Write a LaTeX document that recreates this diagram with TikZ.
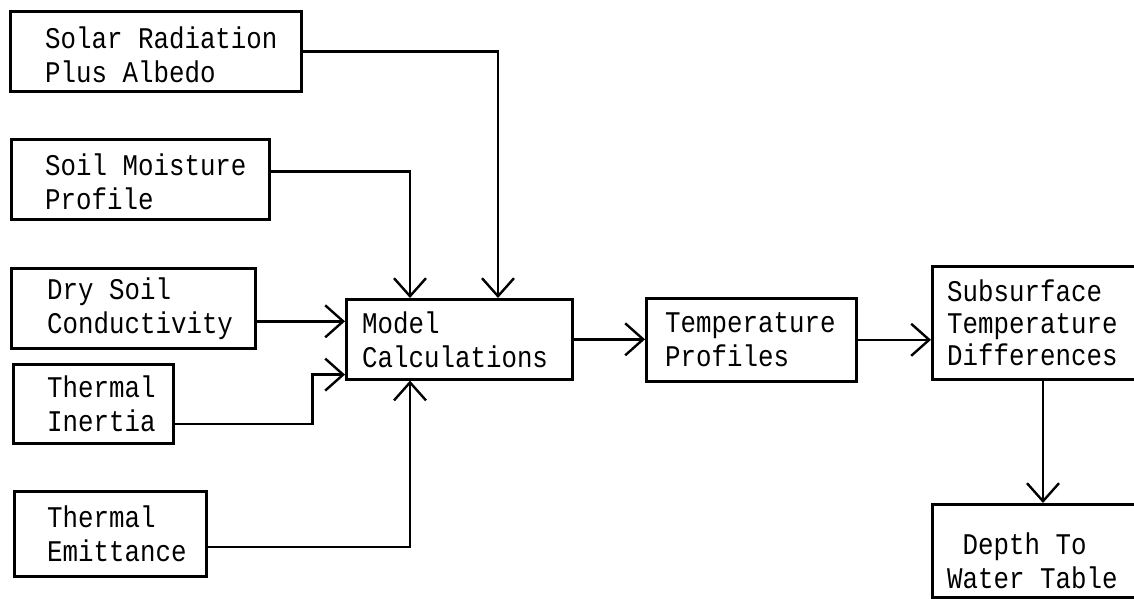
\documentclass[tikz,border=0pt]{standalone}
\usepackage{fontspec}
\setmonofont[FakeStretch=0.86]{Liberation Mono}
\usetikzlibrary{arrows.meta,calc}
\tikzset{
  box/.style={draw=black, line width=2.6pt, rectangle, inner sep=0pt, anchor=north west},
  lbl/.style={anchor=west, align=left, inner sep=0pt, text=black,
    font=\ttfamily\fontsize{30pt}{34pt}\selectfont},
  arr/.style={draw=black, line width=2.4pt, -{Straight Barb[length=18pt,width=32pt]}}
}
\begin{document}
\begin{tikzpicture}[x=1pt,y=-1pt]
\useasboundingbox (0,0) rectangle (1134,598);
\clip (0,0) rectangle (1134,598);
\fill[white] (0,0) rectangle (1134,598);
% boxes
\node[box, minimum width=291pt, minimum height=80pt] (solar) at (9,10) {};
\node[box, minimum width=258pt, minimum height=80pt] (soil) at (10,138) {};
\node[box, minimum width=244pt, minimum height=80pt] (dry) at (10,267) {};
\node[box, minimum width=160pt, minimum height=79pt] (inertia) at (12,363) {};
\node[box, minimum width=192pt, minimum height=85pt] (emit) at (13,490) {};
\node[box, minimum width=226pt, minimum height=80pt] (model) at (345,298) {};
\node[box, minimum width=210pt, minimum height=83pt] (tp) at (645,297) {};
\node[box, minimum width=230pt, minimum height=113pt] (sub) at (931,265) {};
\node[box, minimum width=230pt, minimum height=93pt] (depth) at (931,503) {};
% texts
\node[lbl] (solarT) at ([xshift=36pt,yshift=-4pt]solar.west) {Solar Radiation\\Plus Albedo};
\node[lbl] (soilT) at ([xshift=35pt,yshift=-2pt]soil.west) {Soil Moisture\\Profile};
\node[lbl] (dryT) at ([xshift=37pt]dry.west) {Dry Soil\\Conductivity};
\node[lbl] (inertiaT) at ([xshift=35pt]inertia.west) {Thermal\\Inertia};
\node[lbl] (emitT) at ([xshift=34pt]emit.west) {Thermal\\Emittance};
\node[lbl] (modelT) at ([xshift=17pt]model.west) {Model\\Calculations};
\node[lbl] (tpT) at ([xshift=20pt]tp.west) {Temperature\\Profiles};
\node[lbl,font=\ttfamily\fontsize{30pt}{32pt}\selectfont] (subT) at ([xshift=16pt]sub.west) {Subsurface\\Temperature\\Differences};
\node[lbl] (depthT) at ([xshift=16pt,yshift=-10pt]depth.west) {~Depth To\\Water Table};
% connector ports
\coordinate (soilout) at ([yshift=8pt]soil.east);
\coordinate (dryout) at ([yshift=-13pt]dry.east);
\coordinate (inout) at ([yshift=-20pt]inertia.east);
\coordinate (emout) at ([yshift=-13pt]emit.east);
\coordinate (mt1) at ([xshift=65pt]model.north west);
\coordinate (mt2) at ([xshift=153pt]model.north west);
\coordinate (mb) at ([xshift=65pt]model.south west);
\coordinate (minl) at ([yshift=6pt]model.south west);
\coordinate (sd) at ([xshift=112pt]sub.south west);
% connectors
\draw[arr] (solar.east) -| (mt2);
\draw[arr] (soilout) -| (mt1);
\draw[arr] (dryout) -- (dryout -| model.west);
\draw[arr] (inout) -- ++(138,0) |- (minl);
\draw[arr] (emout) -| (mb);
\draw[arr] (model.east) -- (model.east -| tp.west);
\draw[arr] (tp.east) -- (tp.east -| sub.west);
\draw[arr] (sd) -- (sd |- depth.north);
\end{tikzpicture}
\end{document}
